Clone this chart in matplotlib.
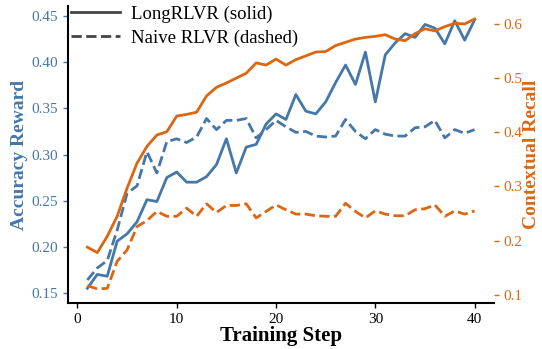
import numpy as np
import matplotlib.pyplot as plt
from matplotlib.lines import Line2D

# ── data ──────────────────────────────────────────────────────────────────────
steps = np.arange(1, 41)

acc_long = [0.155, 0.170, 0.168, 0.206, 0.214, 0.227, 0.251, 0.249, 0.275, 0.281,
            0.270, 0.270, 0.276, 0.289, 0.317, 0.280, 0.308, 0.311, 0.333, 0.344,
            0.338, 0.365, 0.347, 0.344, 0.357, 0.378, 0.397, 0.376, 0.411, 0.357,
            0.408, 0.421, 0.431, 0.427, 0.441, 0.437, 0.420, 0.445, 0.424, 0.446]

acc_naive = [0.164, 0.177, 0.185, 0.218, 0.258, 0.266, 0.303, 0.280, 0.314, 0.317,
             0.313, 0.319, 0.339, 0.327, 0.337, 0.337, 0.339, 0.318, 0.327, 0.337,
             0.330, 0.324, 0.325, 0.320, 0.319, 0.320, 0.338, 0.325, 0.317, 0.327,
             0.322, 0.320, 0.320, 0.329, 0.330, 0.337, 0.318, 0.327, 0.323, 0.327]

rec_long = [0.188, 0.178, 0.208, 0.245, 0.297, 0.343, 0.374, 0.395, 0.401, 0.430,
            0.433, 0.437, 0.467, 0.483, 0.491, 0.500, 0.509, 0.528, 0.524, 0.535,
            0.524, 0.534, 0.541, 0.548, 0.549, 0.560, 0.566, 0.572, 0.575, 0.577,
            0.580, 0.572, 0.569, 0.582, 0.591, 0.587, 0.595, 0.601, 0.600, 0.609]

rec_naive = [0.117, 0.111, 0.112, 0.162, 0.183, 0.226, 0.237, 0.254, 0.245, 0.245,
             0.260, 0.245, 0.268, 0.252, 0.265, 0.265, 0.268, 0.242, 0.254, 0.266,
             0.257, 0.249, 0.249, 0.246, 0.245, 0.245, 0.269, 0.254, 0.242, 0.255,
             0.249, 0.246, 0.246, 0.257, 0.259, 0.266, 0.245, 0.255, 0.249, 0.255]

BLUE   = '#4477aa'
ORANGE = '#dd6611'

plt.rcParams['font.family'] = ['Liberation Serif', 'DejaVu Serif']

fig = plt.figure(figsize=(5.42, 3.49), dpi=100)
ax1 = fig.add_axes([0.1255, 0.1318, 0.7859, 0.851])
ax2 = ax1.twinx()

ax1.plot(steps, acc_long, color=BLUE, lw=2.0)
ax1.plot(steps, acc_naive, color=BLUE, lw=2.0, ls='--')
ax2.plot(steps, rec_long, color=ORANGE, lw=2.0)
ax2.plot(steps, rec_naive, color=ORANGE, lw=2.0, ls='--')

ax1.set_xlim(-0.95, 41.95)
ax1.set_ylim(0.139, 0.461)
ax2.set_ylim(0.085, 0.633)
ax1.set_xticks([0, 10, 20, 30, 40])
ax1.set_yticks([0.15, 0.20, 0.25, 0.30, 0.35, 0.40, 0.45])
ax2.set_yticks([0.1, 0.2, 0.3, 0.4, 0.5, 0.6])

for ax in (ax1, ax2):
    for s in ('top', 'right'):
        ax.spines[s].set_visible(False)
ax2.spines['left'].set_visible(False)
ax2.spines['bottom'].set_visible(False)
ax1.spines['left'].set_linewidth(1.5)
ax1.spines['bottom'].set_linewidth(1.5)

ax1.tick_params(axis='y', colors=BLUE, labelsize=11, length=3.5, width=1)
ax1.tick_params(axis='x', labelsize=11, length=3.5, width=1)
ax2.tick_params(axis='y', colors=ORANGE, labelsize=11, length=3.5, width=1)

ax1.set_xlabel('Training Step', fontsize=15, fontweight='bold', labelpad=0)
ax1.set_ylabel('Accuracy Reward', fontsize=14, fontweight='bold', color=BLUE,
               labelpad=3)
ax2.set_ylabel('Contextual Recall', fontsize=14, fontweight='bold', color=ORANGE,
               labelpad=0)

handles = [Line2D([], [], color='#444444', lw=2.0),
           Line2D([], [], color='#444444', lw=2.0, ls='--')]
ax1.legend(handles, ['LongRLVR (solid)', 'Naive RLVR (dashed)'],
           loc='upper left', bbox_to_anchor=(-0.02, 1.04), frameon=False,
           fontsize=13.5, handlelength=2.6, handletextpad=0.6,
           borderaxespad=0.2, labelspacing=0.35)

plt.savefig('out.png', dpi=100)
